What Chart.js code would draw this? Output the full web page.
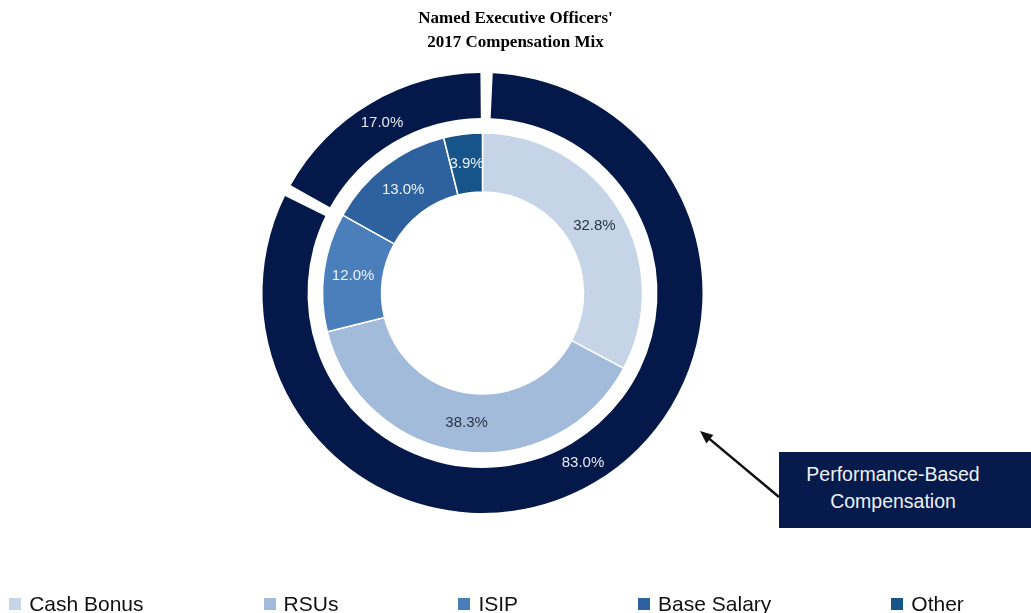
<!DOCTYPE html>
<html>
<head>
<meta charset="utf-8">
<script src="https://cdn.jsdelivr.net/npm/chart.js@4"></script>
<style>
  html, body { margin: 0; padding: 0; background: #fff; }
  #wrap { position: relative; width: 1031px; height: 613px; overflow: hidden; }
  #chart { position: absolute; left: 0; top: 0; }
  #title {
    position: absolute; left: 0; top: 6px; width: 1031px; text-align: center;
    font: bold 17px/24px "Liberation Serif", "Times New Roman", serif; color: #000;
  }
  #callout {
    position: absolute; left: 779px; top: 452px; width: 252px; height: 76px;
    box-sizing: border-box; padding: 9px 24px 0 0; background: #061a4b; color: #eef1f6;
    font: 19.5px/27px "Liberation Sans", Arial, sans-serif; text-align: center;
  }
  #legend {
    position: absolute; left: 4px; top: 593px; width: 965px; height: 22px; margin: 0; padding: 0;
    list-style: none; display: flex; justify-content: center; gap: 120px;
    font: 21px/22px "Liberation Sans", Arial, sans-serif; color: #111;
  }
  #legend li { display: flex; align-items: center; white-space: nowrap; }
  #legend span.box { display: inline-block; width: 12px; height: 12px; margin-right: 8px; }
</style>
</head>
<body>
<div id="wrap">
  <canvas id="chart" width="1031" height="613"></canvas>
  <div id="title">Named Executive Officers'<br>2017 Compensation Mix</div>
  <div id="callout">Performance-Based<br>Compensation</div>
  <ul id="legend"></ul>
</div>
<script>
// inner ring: pay components (% of total)
const categories = ["Cash Bonus", "RSUs", "ISIP", "Base Salary", "Other"];
const mixValues = [32.8, 38.3, 12.0, 13.0, 3.9];
const mixColors = ["#c5d5e7", "#a3bbda", "#4a7fbc", "#2d629f", "#16548a"];
const mixTextColors = ["#2b3347", "#2b3347", "#eef2f7", "#eef2f7", "#eef2f7"];

// outer ring: performance-based vs not
const perfLabels = ["Performance-Based", "Not Performance-Based"];
const perfValues = [83.0, 17.0];
const perfColor = "#04194a";

// labels drawn on each arc
const arcLabels = {
  id: "arcLabels",
  afterDatasetsDraw(chart) {
    const ctx = chart.ctx;
    ctx.save();
    ctx.font = '15px "Liberation Sans", Arial, sans-serif';
    ctx.textAlign = "center";
    ctx.textBaseline = "middle";
    chart.data.datasets.forEach((ds, di) => {
      if (!ds.data.length) return;
      chart.getDatasetMeta(di).data.forEach((arc, i) => {
        const p = arc.tooltipPosition();
        ctx.fillStyle = ds.labelColors[i];
        ctx.fillText(ds.data[i].toFixed(1) + "%", p.x, p.y);
      });
    });
    ctx.restore();
  }
};

// arrow from the callout box to the outer ring
const calloutArrow = {
  id: "calloutArrow",
  afterDraw(chart) {
    const ctx = chart.ctx;
    const x1 = 779, y1 = 497, x2 = 700, y2 = 431;
    const a = Math.atan2(y2 - y1, x2 - x1);
    ctx.save();
    ctx.strokeStyle = "#111";
    ctx.fillStyle = "#111";
    ctx.lineWidth = 2.5;
    ctx.beginPath();
    ctx.moveTo(x1, y1);
    ctx.lineTo(x2 - 8 * Math.cos(a), y2 - 8 * Math.sin(a));
    ctx.stroke();
    ctx.beginPath();
    ctx.moveTo(x2, y2);
    ctx.lineTo(x2 - 14 * Math.cos(a - 0.4), y2 - 14 * Math.sin(a - 0.4));
    ctx.lineTo(x2 - 14 * Math.cos(a + 0.4), y2 - 14 * Math.sin(a + 0.4));
    ctx.closePath();
    ctx.fill();
    ctx.restore();
  }
};

const chart = new Chart(document.getElementById("chart"), {
  type: "doughnut",
  data: {
    labels: categories,
    datasets: [
      {
        label: "Performance mix",
        data: perfValues,
        backgroundColor: perfColor,
        labelColors: ["#e4e9f1", "#e4e9f1"],
        borderWidth: 0,
        spacing: 7,
        weight: 45
      },
      // empty ring = white gap between the two rings
      { label: "", data: [], weight: 11.5 },
      {
        label: "Compensation mix",
        data: mixValues,
        backgroundColor: mixColors,
        labelColors: mixTextColors,
        borderColor: "#ffffff",
        borderWidth: 1.5,
        weight: 59
      }
    ]
  },
  options: {
    responsive: false,
    animation: false,
    radius: 216.5,
    cutout: "46.65%",
    layout: { padding: { top: 73, bottom: 100, left: 0, right: 66 } },
    plugins: {
      legend: { display: false },
      title: { display: false },
      tooltip: { enabled: false }
    }
  },
  plugins: [arcLabels, calloutArrow]
});

// html legend built from the inner ring
const legendEl = document.getElementById("legend");
categories.forEach((c, i) => {
  const li = document.createElement("li");
  li.innerHTML = `<span class="box" style="background:${mixColors[i]}"></span>${c}`;
  legendEl.appendChild(li);
});
</script>
</body>
</html>
